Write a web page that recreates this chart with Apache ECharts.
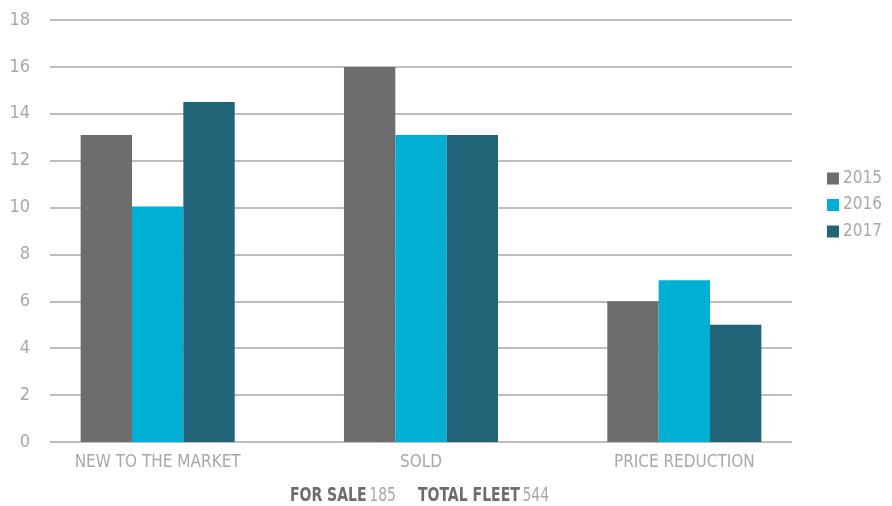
<!DOCTYPE html>
<html><head><meta charset="utf-8">
<script src="https://cdn.jsdelivr.net/npm/echarts@6/dist/echarts.min.js"></script>
<style>html,body{margin:0;padding:0;background:#fff}#c{width:892px;height:506px}</style>
</head><body><div id="c"></div>
<script>
const categories = ["NEW TO THE MARKET", "SOLD", "PRICE REDUCTION"];
const seriesNames = ["2015", "2016", "2017"];
const values2015 = [13.1, 16, 6];
const values2016 = [10.05, 13.1, 6.9];
const values2017 = [14.5, 13.1, 5];
const yTicks = [0, 2, 4, 6, 8, 10, 12, 14, 16, 18];
const colors = ["#6d6d6d", "#00afd4", "#216477"];
const FONT = "'Liberation Sans Narrow', 'DejaVu Sans Condensed', 'Roboto', sans-serif";
const labelColor = "#a8a8a8";

const chart = echarts.init(document.getElementById('c'), null, {renderer: 'canvas'});
const allVals = [values2015, values2016, values2017];
const rich = {b: {fontFamily: FONT, fontWeight: 'bold', fontSize: 20, fill: '#6d6d6d'},
              n: {fontFamily: FONT, fontSize: 20, fill: labelColor}};
chart.setOption({
  animation: false,
  color: colors,
  textStyle: {fontFamily: FONT},
  grid: [
    {left: 26, right: 76, top: 20, bottom: 64},
    {left: 50, right: 100, top: 20, bottom: 64}
  ],
  legend: {
    orient: 'vertical', left: 822, top: 165, itemWidth: 12, itemHeight: 12, itemGap: 9.5,
    icon: 'rect',
    textStyle: {color: labelColor, fontSize: 17, fontFamily: FONT, padding: [0,0,0,-1]},
    data: seriesNames
  },
  xAxis: [
    {type: 'category', gridIndex: 0, data: categories,
     axisLine: {show: false}, axisTick: {show: false},
     axisLabel: {color: labelColor, fontSize: 17, fontFamily: FONT, margin: 12}},
    {type: 'value', gridIndex: 1, show: false, min: 0, max: 1}
  ],
  yAxis: [
    {type: 'value', gridIndex: 0, min: 0, max: 18, show: false, splitLine: {show: false}},
    {type: 'value', gridIndex: 1, min: 0, max: 18, interval: 2,
     axisLine: {show: false}, axisTick: {show: false},
     axisLabel: {color: labelColor, fontSize: 18, fontFamily: FONT, margin: 20,
       formatter: v => yTicks.includes(v) ? String(v) : ''},
     splitLine: {lineStyle: {color: '#bdbdbd', width: 2}}}
  ],
  series: seriesNames.map((n, i) => ({
    name: n, type: 'bar', xAxisIndex: 0, yAxisIndex: 0,
    data: allVals[i], barGap: '0%', barCategoryGap: '41.5%', z: 5,
    itemStyle: {color: colors[i]}
  })),
  graphic: [
    {type: 'text', x: 396, y: 496, scaleX: 0.78,
     style: {x: 0, y: 0, text: '{b|FOR SALE} {n|185}', align: 'right', verticalAlign: 'middle', rich: rich}},
    {type: 'text', x: 418, y: 496, scaleX: 0.78,
     style: {x: 0, y: 0, text: '{b|TOTAL FLEET} {n|544}', align: 'left', verticalAlign: 'middle', rich: rich}}
  ]
});
</script></body></html>
